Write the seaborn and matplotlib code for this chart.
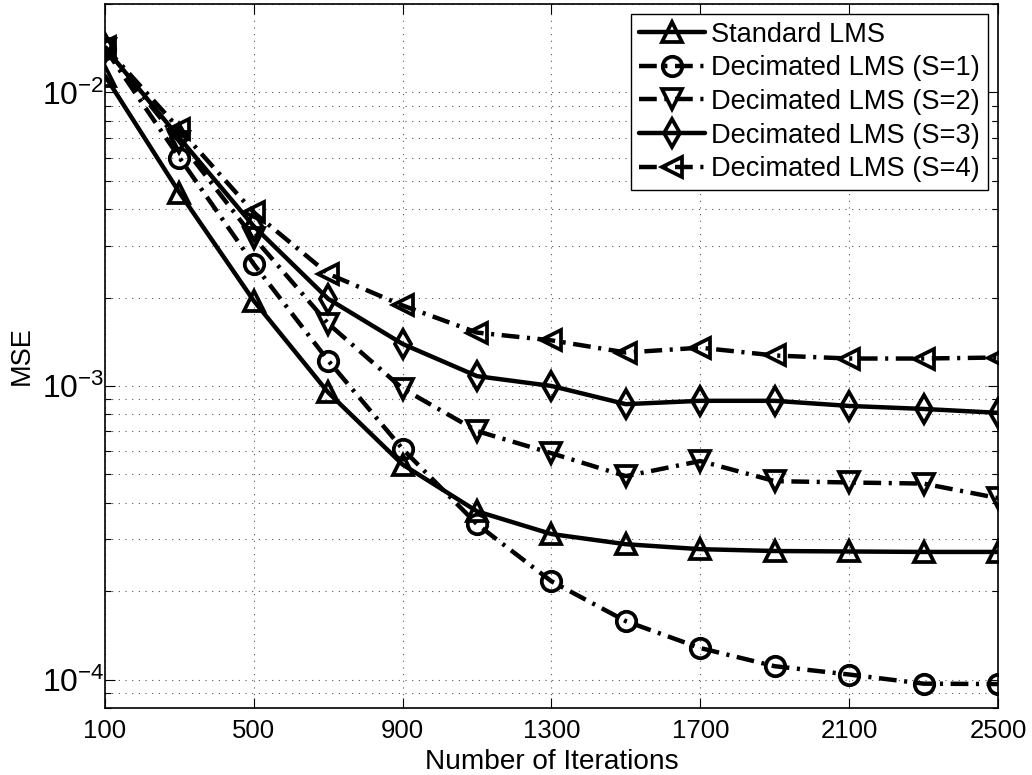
import pandas as pd
import matplotlib
matplotlib.use("Agg")
import matplotlib.pyplot as plt
import seaborn as sns

iterations = [100, 300, 500, 700, 900, 1100, 1300, 1500, 1700, 1900, 2100, 2300, 2500]

standard_lms = [0.0114, 0.00456, 0.00195, 0.00095, 0.00054, 0.000374, 0.000313,
                0.000289, 0.000278, 0.000274, 0.000273, 0.000272, 0.000272]
dec_s1 = [0.0141, 0.0060, 0.0026, 0.00122, 0.00061, 0.000338, 0.000216,
          0.000158, 0.000128, 0.000111, 0.000104, 0.0000968, 0.0000965]
dec_s2 = [0.0141, 0.0068, 0.0032, 0.00163, 0.00098, 0.000702, 0.00059,
          0.000493, 0.000555, 0.000474, 0.000469, 0.000465, 0.000415]
dec_s3 = [0.0142, 0.0070, 0.0035, 0.00198, 0.00139, 0.00108, 0.00100,
          0.000867, 0.00089, 0.00089, 0.000855, 0.000835, 0.00081]
dec_s4 = [0.0143, 0.0075, 0.0039, 0.00241, 0.00188, 0.00152, 0.00143,
          0.0013, 0.00135, 0.00127, 0.00124, 0.00124, 0.00125]

labels = ["Standard LMS", "Decimated LMS (S=1)", "Decimated LMS (S=2)",
          "Decimated LMS (S=3)", "Decimated LMS (S=4)"]
series = [standard_lms, dec_s1, dec_s2, dec_s3, dec_s4]
marker_list = ['^', 'o', 'v', 'd', '<']
dashdot = (0, (4, 1.7, 0.7, 1.7))
style_list = ['-', dashdot, dashdot, '-', dashdot]

sns.set_style("ticks")
plt.rcParams['font.family'] = ['Liberation Sans', 'DejaVu Sans']
plt.rcParams['font.size'] = 18
plt.rcParams['mathtext.fontset'] = 'custom'
plt.rcParams['mathtext.rm'] = 'Liberation Sans'
plt.rcParams['mathtext.it'] = 'Liberation Sans:italic'
for k in ['text.color', 'axes.labelcolor', 'xtick.color', 'ytick.color']:
    plt.rcParams[k] = 'black'

fig = plt.figure(figsize=(10.32, 7.75), dpi=100)
ax = fig.add_axes([0.1017, 0.0865, 0.8653, 0.9083])

# una llamada por serie para controlar estilo y marcador
for lab, vals, mk, ls in zip(labels, series, marker_list, style_list):
    d = pd.DataFrame({"iter": iterations, "mse": vals})
    sns.lineplot(data=d, x="iter", y="mse", color='black', marker=mk,
                 linestyle=ls, lw=3.2, ms=14, mfc='none', mec='black', mew=2.7,
                 label=lab, ax=ax)

ax.set_yscale('log')
ax.set_xlim(100, 2500)
ax.set_ylim(8e-5, 2e-2)
ax.set_xticks([100, 500, 900, 1300, 1700, 2100, 2500])
ax.set_xlabel("Number of Iterations", fontsize=20.2, labelpad=4)
ax.set_ylabel("MSE", fontsize=19.5)
ax.yaxis.set_label_coords(-0.079, 0.5)

grid_style = dict(linestyle=(0, (1, 5)), color='#555555', lw=0.8)
ax.grid(True, which='major', axis='both', **grid_style)
ax.grid(True, which='minor', axis='y', **grid_style)
ax.tick_params(which='both', direction='in', top=True, right=True)
ax.tick_params(which='major', length=7, width=0.8)
ax.tick_params(which='minor', length=4, width=0.8)
ax.tick_params(axis='x', which='minor', bottom=False, top=False)
ax.tick_params(axis='x', pad=8, labelsize=18.5)
ax.tick_params(axis='y', labelsize=23, pad=0.5)
for s in ax.spines.values():
    s.set_linewidth(1.2)
    s.set_color('black')

leg = ax.legend(loc='upper right', fontsize=19.6, frameon=True,
                fancybox=False, edgecolor='black', framealpha=1,
                borderaxespad=0.35, handlelength=2.4, handletextpad=0.25,
                labelspacing=0.28, borderpad=0.3)
leg.get_frame().set_linewidth(1.0)

fig.savefig("out.png", dpi=100)
